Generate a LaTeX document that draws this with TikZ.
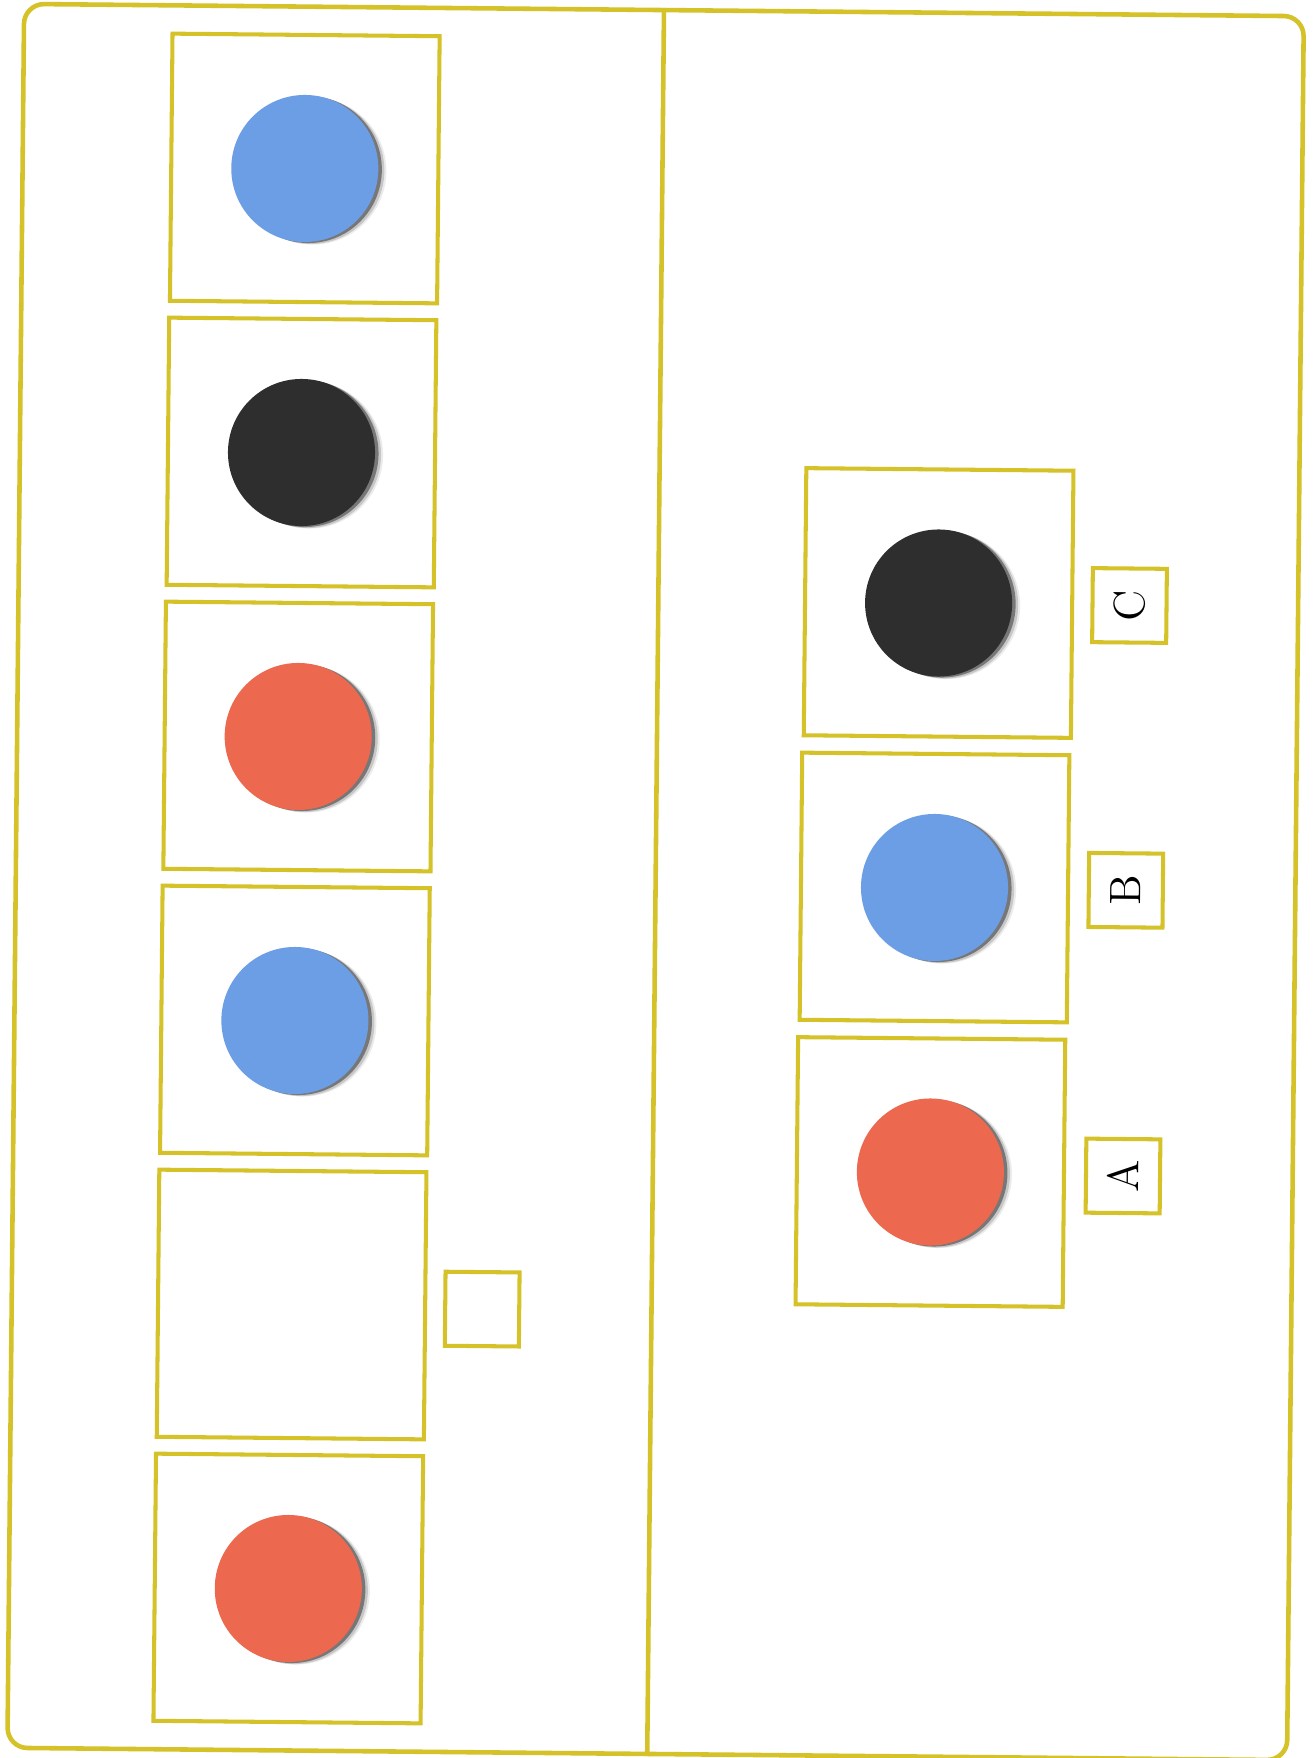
\documentclass[tikz,border=0pt]{standalone}
\usetikzlibrary{shadows}
\definecolor{frameY}{RGB}{212,194,40}
\definecolor{dotBlue}{RGB}{108,158,230}
\definecolor{dotRed}{RGB}{236,104,78}
\definecolor{dotBlack}{RGB}{46,46,46}
\begin{document}
\begin{tikzpicture}[x=0.01cm,y=-0.01cm,
  tilt/.style={rotate=-0.55},
  card/.style={draw=frameY, line width=1.15pt, minimum size=2.67cm, inner sep=0pt, tilt},
  tag/.style={draw=frameY, line width=1.15pt, minimum size=0.74cm, inner sep=0pt, rotate=89.45,
              font=\fontsize{12.5}{13}\selectfont},
  disc/.style={circle, inner sep=0pt, minimum size=1.47cm, fill=#1, draw=none,
    general shadow={shadow xshift=0.8mm, shadow yshift=-0.25mm, fill=black, opacity=0.08},
    general shadow={shadow xshift=0.6mm, shadow yshift=-0.2mm, fill=black, opacity=0.15},
    general shadow={shadow xshift=0.35mm, shadow yshift=-0.1mm, fill=black, opacity=0.4}},
  frameline/.style={draw=frameY, line width=1.3pt}
]
\useasboundingbox (0,0) rectangle (1313,1758);
\fill[white] (0,0) rectangle (1313,1758);

% outer frame and divider
\node[frameline, rounded corners=0.2cm, minimum width=12.79cm, minimum height=17.43cm,
      inner sep=0pt, tilt] (frame) at (655.6,882) {};
\draw[frameline] (frame.north) -- (frame.south);

% left column
\node[card] (L1) at (304.8,168.5) {};
\node[card] (L2) at (301.5,452.5) {};
\node[card] (L3) at (298.2,736.5) {};
\node[card] (L4) at (294.9,1020.5) {};
\node[card] (L5) at (291.6,1304.5) {};
\node[card] (L6) at (288.3,1588.5) {};
\node[tag] (blank) at (482.2,1309.1) {};

\node[disc=dotBlue]  (d1) at (L1.center) {};
\node[disc=dotBlack] (d2) at (L2.center) {};
\node[disc=dotRed]   (d3) at (L3.center) {};
\node[disc=dotBlue]  (d4) at (L4.center) {};
\node[disc=dotRed]   (d6) at (L6.center) {};

% right column
\node[card] (RC) at (938.6,603) {};
\node[card] (RB) at (934.5,887.5) {};
\node[card] (RA) at (930.4,1172) {};

\node[disc=dotBlack] (dc) at (RC.center) {};
\node[disc=dotBlue]  (db) at (RB.center) {};
\node[disc=dotRed]   (da) at (RA.center) {};

\node[tag] (tC) at (1129.5,605.5) {C};
\node[tag] (tB) at (1125.8,890.3) {B};
\node[tag] (tA) at (1123,1176) {A};
\end{tikzpicture}
\end{document}
